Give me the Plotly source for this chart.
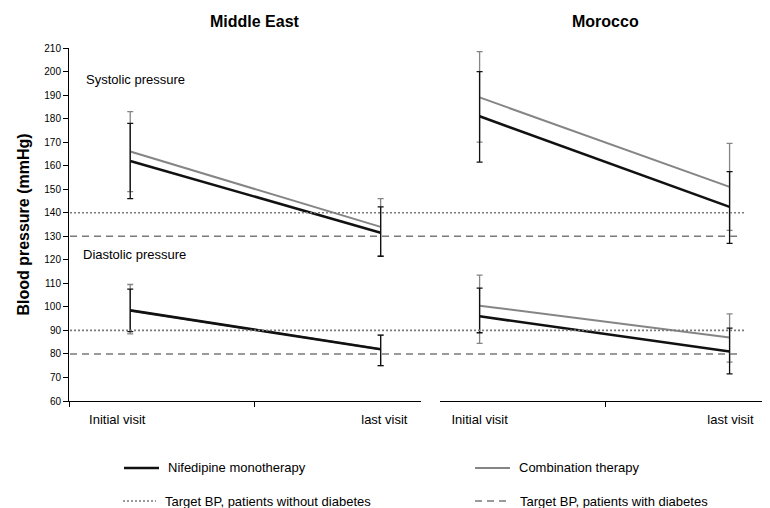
import plotly.graph_objects as go

# Mean blood pressure (mmHg) at the two visits, with the error-bar extents
VISITS = ["Initial visit", "last visit"]
REGIONS = ["Middle East", "Morocco"]

# x positions of the two visits and of their labels on each panel's own axis
POINT_X = {"Middle East": [0.33, 1.68], "Morocco": [0.24, 1.755]}
LABEL_X = {"Middle East": [0.26, 1.70], "Morocco": [0.24, 1.76]}

ME_NIF_SYS = [162, 131.5]
ME_NIF_SYS_UP = [16, 11]
ME_NIF_SYS_DN = [16, 10]
ME_COMB_SYS = [166, 134]
ME_COMB_SYS_UP = [17, 12]
ME_COMB_SYS_DN = [17, 12.5]
ME_NIF_DIA = [98.5, 82]
ME_NIF_DIA_UP = [9, 6]
ME_NIF_DIA_DN = [9, 7]
ME_COMB_DIA = [98.5, 82]
ME_COMB_DIA_UP = [11, 6]
ME_COMB_DIA_DN = [10, 7]

MO_NIF_SYS = [181, 142.5]
MO_NIF_SYS_UP = [19, 15]
MO_NIF_SYS_DN = [19.5, 15.5]
MO_COMB_SYS = [189, 151]
MO_COMB_SYS_UP = [19.5, 18.5]
MO_COMB_SYS_DN = [19, 18.5]
MO_NIF_DIA = [96, 81]
MO_NIF_DIA_UP = [12, 10]
MO_NIF_DIA_DN = [7, 9.5]
MO_COMB_DIA = [100.5, 87]
MO_COMB_DIA_UP = [13, 10]
MO_COMB_DIA_DN = [16, 10.5]

TARGET_NO_DIABETES = [140, 90]
TARGET_DIABETES = [130, 80]

FONT = "Liberation Sans, Arial, sans-serif"
BLACK = "#111111"
GREY = "#858585"
REF_GREY = "#7a7a7a"

# plot area in pixels (770 x 508 page)
W, H = 770, 508
L, R, T, B = 61, 8, 40, 115
PW, PH = W - L - R, H - T - B


def px_x(px):
    return (px - L) / PW


def px_y(py):
    return (H - B - py) / PH


SERIES = {
    "Middle East": [
        (ME_COMB_SYS, ME_COMB_SYS_UP, ME_COMB_SYS_DN, GREY, 2),
        (ME_COMB_DIA, ME_COMB_DIA_UP, ME_COMB_DIA_DN, GREY, 2),
        (ME_NIF_SYS, ME_NIF_SYS_UP, ME_NIF_SYS_DN, BLACK, 2.6),
        (ME_NIF_DIA, ME_NIF_DIA_UP, ME_NIF_DIA_DN, BLACK, 2.6),
    ],
    "Morocco": [
        (MO_COMB_SYS, MO_COMB_SYS_UP, MO_COMB_SYS_DN, GREY, 2),
        (MO_COMB_DIA, MO_COMB_DIA_UP, MO_COMB_DIA_DN, GREY, 2),
        (MO_NIF_SYS, MO_NIF_SYS_UP, MO_NIF_SYS_DN, BLACK, 2.6),
        (MO_NIF_DIA, MO_NIF_DIA_UP, MO_NIF_DIA_DN, BLACK, 2.6),
    ],
}

fig = go.Figure()
for i, region in enumerate(REGIONS):
    xa = "x" if i == 0 else "x2"
    ya = "y" if i == 0 else "y2"
    for values, up, dn, color, width in SERIES[region]:
        fig.add_trace(go.Scatter(
            x=POINT_X[region], y=values, mode="lines",
            line=dict(color=color, width=width),
            error_y=dict(type="data", symmetric=False, array=up, arrayminus=dn,
                         color=color, thickness=1.3, width=3),
            xaxis=xa, yaxis=ya, showlegend=False, hoverinfo="y",
        ))

axis_font = dict(family=FONT, size=13, color="#000000")
common_x = dict(
    showline=True, linecolor="#000000", linewidth=1, showgrid=False, zeroline=False,
    ticks="", tickmode="array", ticktext=VISITS, tickfont=axis_font,
    ticklabelstandoff=6, fixedrange=True,
)
fig.update_layout(
    xaxis=dict(common_x, domain=[0, px_x(413)], range=[0, (413 - L) / 185.5],
               tickvals=LABEL_X["Middle East"],
               minor=dict(tickmode="array", tickvals=[0, 1], ticks="outside",
                          ticklen=5, tickcolor="#000000", showgrid=False)),
    xaxis2=dict(common_x, domain=[px_x(432), 1], range=[0, 2], anchor="y2",
                tickvals=LABEL_X["Morocco"],
                minor=dict(tickmode="array", tickvals=[1], ticks="outside",
                           ticklen=5, tickcolor="#000000", showgrid=False)),
    yaxis=dict(range=[60, 210], dtick=10, tick0=60, showline=True, linecolor="#000000",
               linewidth=1, ticks="outside", ticklen=5, tickcolor="#000000",
               showgrid=False, zeroline=False, tickfont=dict(family=FONT, size=10, color="#000000"),
               title=dict(text="<b>Blood pressure (mmHg)</b>", standoff=10,
                          font=dict(family=FONT, size=16, color="#000000")),
               fixedrange=True),
    yaxis2=dict(range=[60, 210], anchor="x2", matches="y", visible=False),
)

# target blood pressure lines span both panels
for level in TARGET_NO_DIABETES:
    fig.add_shape(type="line", xref="paper", yref="y", x0=px_x(62), x1=px_x(737),
                  y0=level, y1=level, line=dict(color=REF_GREY, width=1.6, dash="2px,2px"))
for level in TARGET_DIABETES:
    fig.add_shape(type="line", xref="paper", yref="y", x0=px_x(62), x1=px_x(734),
                  y0=level, y1=level, line=dict(color=REF_GREY, width=1.6, dash="7px,5px"))

# panel titles
for region, cx in zip(REGIONS, [247, 597]):
    fig.add_annotation(text=f"<b>{region}</b>", xref="paper", yref="paper",
                       x=px_x(cx), y=px_y(13), xanchor="center", yanchor="middle",
                       showarrow=False, font=dict(family=FONT, size=16, color="#000000"))

fig.add_annotation(text="Systolic pressure", xref="paper", yref="y", x=px_x(76), y=196.5,
                   xanchor="left", yanchor="middle", showarrow=False, font=axis_font)
fig.add_annotation(text="Diastolic pressure", xref="paper", yref="y", x=px_x(73), y=122.2,
                   xanchor="left", yanchor="middle", showarrow=False, font=axis_font)

# hand-made legend, two columns by two rows
legend_items = [
    ("Nifedipine monotherapy", BLACK, 2.6, "solid", 116, 151, 460),
    ("Combination therapy", GREY, 2, "solid", 467, 502, 460),
    ("Target BP, patients without diabetes", REF_GREY, 1.6, "2px,2px", 115, 148, 493),
    ("Target BP, patients with diabetes", REF_GREY, 1.6, "7px,5px", 467, 503, 493),
]
for label, color, width, dash, x0, x1, yy in legend_items:
    fig.add_shape(type="line", xref="paper", yref="paper", x0=px_x(x0), x1=px_x(x1),
                  y0=px_y(yy), y1=px_y(yy), line=dict(color=color, width=width, dash=dash))
    fig.add_annotation(text=label, xref="paper", yref="paper", x=px_x(x1 + 7), y=px_y(yy),
                       xanchor="left", yanchor="middle", showarrow=False, font=axis_font)

fig.update_layout(
    width=W, height=H, margin=dict(l=L, r=R, t=T, b=B),
    paper_bgcolor="#ffffff", plot_bgcolor="#ffffff",
    font=dict(family=FONT, color="#000000"), showlegend=False,
)

fig.write_html("out.html")
